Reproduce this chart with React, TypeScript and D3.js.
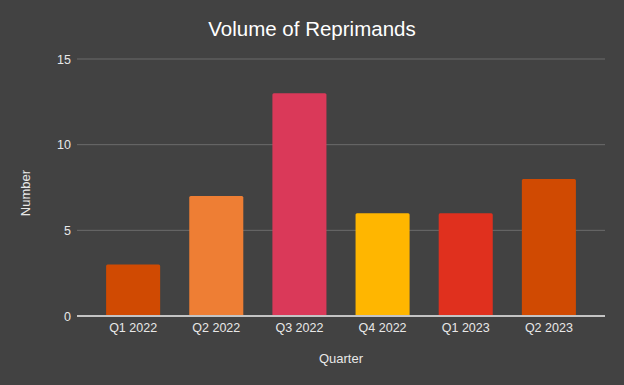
import React, { useRef, useEffect } from "react";
import * as d3 from "d3";

// Chart data
const quarters = ["Q1 2022", "Q2 2022", "Q3 2022", "Q4 2022", "Q1 2023", "Q2 2023"];
const reprimands = [3, 7, 13, 6, 6, 8];
const barColors = ["#d04a02", "#ee7e34", "#da3959", "#ffb600", "#e0301e", "#d04a02"];
const yTicks = [0, 5, 10, 15];

const chartTitle = "Volume of Reprimands";
const xTitle = "Quarter";
const yTitle = "Number";

const width = 624;
const height = 385;
const margin = { top: 59, right: 19, bottom: 69, left: 77 };

const App = () => {
  const svgRef = useRef<SVGSVGElement | null>(null);

  useEffect(() => {
    const root = d3.select(svgRef.current);
    root.selectAll("*").remove();

    const chartWidth = width - margin.left - margin.right;
    const chartHeight = height - margin.top - margin.bottom;
    const font = "'Liberation Sans', Arial, sans-serif";

    // background
    root.append("rect").attr("width", width).attr("height", height).attr("fill", "#424242");

    const svg = root.append("g").attr("transform", `translate(${margin.left},${margin.top})`);

    // scales
    const x = d3.scaleBand().domain(quarters).range([0, chartWidth]).padding(0.35);
    const y = d3.scaleLinear().domain([0, 15]).range([chartHeight, 0]);

    // gridlines
    svg
      .selectAll(".grid")
      .data(yTicks.filter((t) => t !== 0))
      .enter()
      .append("line")
      .attr("x1", 0)
      .attr("x2", chartWidth)
      .attr("y1", (d) => y(d))
      .attr("y2", (d) => y(d))
      .attr("stroke", "#6b6b6b")
      .attr("stroke-width", 1);

    // Y axis labels
    const yAxis = svg
      .append("g")
      .call(d3.axisLeft(y).tickValues(yTicks).tickSize(0).tickPadding(6));
    yAxis.select(".domain").remove();
    yAxis
      .selectAll("text")
      .attr("fill", "#e8e8e8")
      .style("font-family", font)
      .style("font-size", "12.5px");

    // bars with slightly rounded tops
    const r = 1.5;
    svg
      .selectAll(".bar")
      .data(reprimands)
      .enter()
      .append("path")
      .attr("class", "bar")
      .attr("d", (d, i) => {
        const x0 = x(quarters[i]) as number;
        const w = x.bandwidth();
        const y0 = y(d);
        const y1 = y(0);
        return `M${x0},${y1}V${y0 + r}Q${x0},${y0} ${x0 + r},${y0}H${x0 + w - r}Q${x0 + w},${y0} ${x0 + w},${y0 + r}V${y1}Z`;
      })
      .attr("fill", (d, i) => barColors[i]);

    // baseline
    svg
      .append("line")
      .attr("x1", 0)
      .attr("x2", chartWidth)
      .attr("y1", y(0))
      .attr("y2", y(0))
      .attr("stroke", "#c4c4c4")
      .attr("stroke-width", 2);

    // X axis labels
    const xAxis = svg
      .append("g")
      .attr("transform", `translate(0,${chartHeight})`)
      .call(d3.axisBottom(x).tickSize(0).tickPadding(7));
    xAxis.select(".domain").remove();
    xAxis
      .selectAll("text")
      .attr("fill", "#e8e8e8")
      .style("font-family", font)
      .style("font-size", "12.5px");

    // titles
    root
      .append("text")
      .attr("x", width / 2)
      .attr("y", 36)
      .attr("text-anchor", "middle")
      .attr("fill", "#ffffff")
      .style("font-family", font)
      .style("font-size", "20.5px")
      .text(chartTitle);

    root
      .append("text")
      .attr("x", margin.left + chartWidth / 2)
      .attr("y", 363)
      .attr("text-anchor", "middle")
      .attr("fill", "#e8e8e8")
      .style("font-family", font)
      .style("font-size", "13px")
      .text(xTitle);

    root
      .append("text")
      .attr("transform", `translate(30,193) rotate(-90)`)
      .attr("text-anchor", "middle")
      .attr("fill", "#e8e8e8")
      .style("font-family", font)
      .style("font-size", "13px")
      .text(yTitle);
  }, []);

  return (
    <div style={{ position: "fixed", left: 0, top: 0 }}>
      <svg ref={svgRef} width={width} height={height} style={{ display: "block" }}></svg>
    </div>
  );
};

export default App;
